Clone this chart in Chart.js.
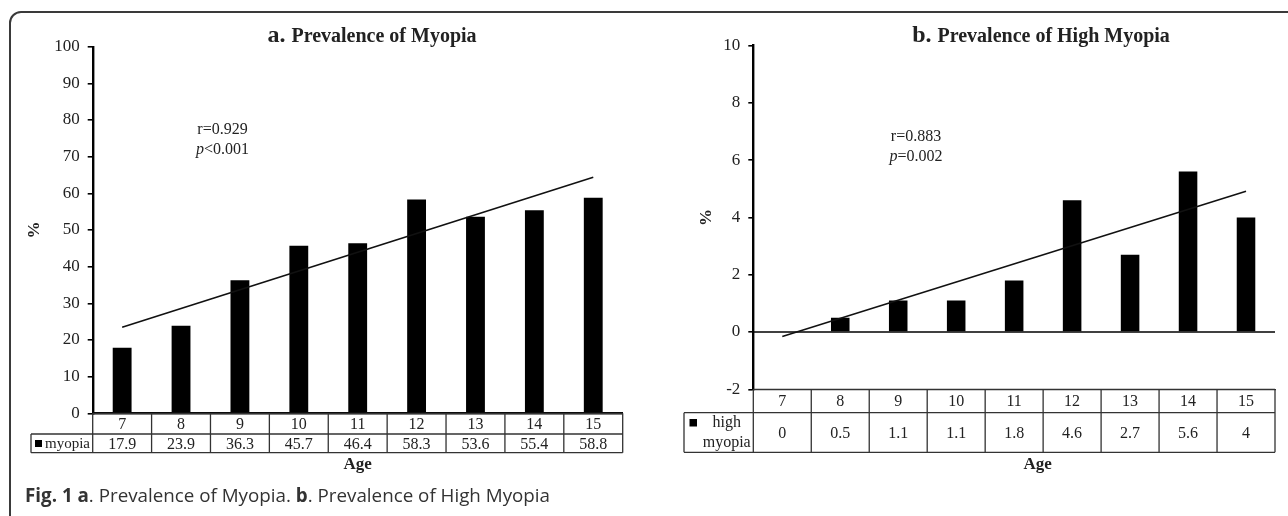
<!DOCTYPE html>
<html>
<head>
<meta charset="utf-8">
<script src="https://cdn.jsdelivr.net/npm/chart.js@4.4.1/dist/chart.umd.min.js"></script>
<style>
  body { margin: 0; background: #fff; width: 1288px; height: 516px; position: relative; overflow: hidden; }
  #frame { position: absolute; left: 9px; top: 11px; width: 1290px; height: 560px; border: 2px solid #3a3a3a; border-radius: 12px; box-sizing: border-box; }
  #chartA { position: absolute; left: 0; top: 0; }
  #chartB { position: absolute; left: 640px; top: 0; }
  #caption { position: absolute; left: 25px; top: 482px; font-family: 'Open Sans', sans-serif; font-size: 18.8px; color: #333; white-space: nowrap; }
</style>
</head>
<body>
<div id="frame"></div>
<canvas id="chartA" width="640" height="516"></canvas>
<canvas id="chartB" width="648" height="516"></canvas>
<div id="caption"><b>Fig. 1 a</b>. Prevalence of Myopia. <b>b</b>. Prevalence of High Myopia</div>

<script>
document.addEventListener("DOMContentLoaded", function(event) {

    var ages = ['7', '8', '9', '10', '11', '12', '13', '14', '15'];
    var myopia = [17.9, 23.9, 36.3, 45.7, 46.4, 58.3, 53.6, 55.4, 58.8];
    var highMyopia = [0, 0.5, 1.1, 1.1, 1.8, 4.6, 2.7, 5.6, 4];

    // fitted lines (value at age 7 and at age 15)
    var trendAges = ['7', '15'];
    var trendMyopia = [23.5, 64.4];
    var trendHigh = [-0.16, 4.91];

    var yTicksA = [0, 10, 20, 30, 40, 50, 60, 70, 80, 90, 100];
    var yTicksB = [-2, 0, 2, 4, 6, 8, 10];

    var serif = "'Liberation Serif', 'DejaVu Serif', serif";
    Chart.defaults.font.family = serif;
    Chart.defaults.color = '#222';

    // draws title, % label, r/p note, the data table under the axis and "Age"
    function extras(o) {
        return {
            id: 'extras',
            beforeDatasetsDraw: function(chart) {
                if (!o.zeroLine) return;
                var ctx = chart.ctx, ca = chart.chartArea;
                var y0 = chart.scales.y.getPixelForValue(0);
                ctx.save();
                ctx.strokeStyle = '#000';
                ctx.lineWidth = 1.6;
                ctx.beginPath();
                ctx.moveTo(ca.left, y0);
                ctx.lineTo(ca.right, y0);
                ctx.stroke();
                ctx.restore();
            },
            afterDraw: function(chart) {
                var ctx = chart.ctx, ca = chart.chartArea;
                var labels = chart.data.labels;
                var vals = chart.data.datasets[1].data;
                var n = labels.length, w = (ca.right - ca.left) / n;
                var top = ca.bottom, mid = top + o.headH, bot = mid + o.rowH;
                ctx.save();

                // table grid
                ctx.strokeStyle = '#333';
                ctx.lineWidth = 1.3;
                ctx.beginPath();
                ctx.moveTo(ca.left, top); ctx.lineTo(ca.right, top);
                ctx.moveTo(o.leadX, mid); ctx.lineTo(ca.right, mid);
                ctx.moveTo(o.leadX, bot); ctx.lineTo(ca.right, bot);
                ctx.moveTo(o.leadX, mid); ctx.lineTo(o.leadX, bot);
                for (var i = 0; i <= n; i++) {
                    var x = ca.left + i * w;
                    ctx.moveTo(x, top); ctx.lineTo(x, bot);
                }
                ctx.stroke();

                // table text
                ctx.fillStyle = '#222';
                ctx.font = '16px ' + serif;
                ctx.textAlign = 'center';
                ctx.textBaseline = 'middle';
                for (var j = 0; j < n; j++) {
                    var cx = chart.scales.x.getPixelForValue(j);
                    ctx.fillText(labels[j], cx, (top + mid) / 2 + 1);
                    ctx.fillText(String(vals[j]), cx, (mid + bot) / 2 + 1);
                }

                // legend key in the first cell
                ctx.fillStyle = '#000';
                ctx.fillRect(o.key[0], o.key[1], o.key[2], o.key[2]);
                ctx.fillStyle = '#222';
                ctx.font = o.keyFont + 'px ' + serif;
                o.keyText.forEach(function(t) {
                    ctx.textAlign = t[3];
                    ctx.fillText(t[0], t[1], t[2]);
                });

                // x title
                ctx.font = 'bold 17px ' + serif;
                ctx.textAlign = 'center';
                ctx.fillStyle = '#222';
                ctx.fillText('Age', o.ageX, o.ageY);

                // y title
                ctx.save();
                ctx.translate(o.pctX, (ca.top + ca.bottom) / 2);
                ctx.rotate(-Math.PI / 2);
                ctx.fillText('%', 0, 0);
                ctx.restore();

                // chart title, bigger letter first
                ctx.textBaseline = 'alphabetic';
                ctx.textAlign = 'left';
                ctx.font = 'bold 24px ' + serif;
                var w1 = ctx.measureText(o.titleLetter).width;
                ctx.font = 'bold 20px ' + serif;
                var w2 = ctx.measureText(o.titleText).width;
                var tx = o.titleX - (w1 + w2) / 2;
                ctx.font = 'bold 24px ' + serif;
                ctx.fillText(o.titleLetter, tx, o.titleY);
                ctx.font = 'bold 20px ' + serif;
                ctx.fillText(o.titleText, tx + w1, o.titleY);

                // r and p note
                ctx.textBaseline = 'middle';
                ctx.font = '16px ' + serif;
                ctx.textAlign = 'center';
                ctx.fillText(o.rText, o.noteX, o.noteY);
                ctx.font = 'italic 16px ' + serif;
                var wp = ctx.measureText('p').width;
                ctx.font = '16px ' + serif;
                var wr = ctx.measureText(o.pText).width;
                var px = o.noteX - (wp + wr) / 2;
                ctx.textAlign = 'left';
                ctx.font = 'italic 16px ' + serif;
                ctx.fillText('p', px, o.noteY + 20);
                ctx.font = '16px ' + serif;
                ctx.fillText(o.pText, px + wp, o.noteY + 20);

                ctx.restore();
            }
        };
    }

    function makeChart(el, values, trend, ticks, o) {
        return new Chart(document.getElementById(el), {
            type: 'bar',
            data: {
                labels: ages,
                datasets: [{
                    type: 'line',
                    data: trendAges.map(function(a, i) { return { x: a, y: trend[i] }; }),
                    borderColor: '#111',
                    borderWidth: 1.6,
                    pointRadius: 0,
                    order: 0
                }, {
                    label: o.series,
                    data: values,
                    backgroundColor: '#000',
                    categoryPercentage: 1,
                    barPercentage: 0.32,
                    order: 1
                }]
            },
            options: {
                responsive: false,
                animation: false,
                layout: { padding: { left: 0, top: o.top, right: o.right, bottom: 0 } },
                plugins: { legend: { display: false }, tooltip: { enabled: false } },
                scales: {
                    x: {
                        ticks: { display: false },
                        grid: { display: false },
                        border: { color: o.xBorderColor, width: o.xBorderWidth },
                        afterFit: function(s) { s.height = o.xHeight; }
                    },
                    y: {
                        min: ticks[0],
                        max: ticks[ticks.length - 1],
                        afterBuildTicks: function(s) { s.ticks = ticks.map(function(v) { return { value: v }; }); },
                        ticks: { color: '#222', font: { size: 17 }, padding: 8 },
                        grid: { drawOnChartArea: false, drawTicks: true, tickLength: 5, color: '#000', lineWidth: 1.6 },
                        border: { color: '#000', width: 2.4 },
                        afterFit: function(s) { s.width = o.yWidth; }
                    }
                }
            },
            plugins: [extras(o)]
        });
    }

    makeChart('chartA', myopia, trendMyopia, yTicksA, {
        series: 'myopia',
        top: 46.7, right: 17.3, xHeight: 102.7, yWidth: 92.7,
        xBorderColor: '#000', xBorderWidth: 2.4,
        headH: 20.7, rowH: 18.7, leadX: 31,
        key: [35, 440, 7], keyFont: 15,
        keyText: [['myopia', 45, 444, 'left']],
        ageX: 357.7, ageY: 465, pctX: 35,
        titleLetter: 'a. ', titleText: 'Prevalence of Myopia', titleX: 372, titleY: 42,
        rText: 'r=0.929', pText: '<0.001', noteX: 222.5, noteY: 130,
        zeroLine: false
    });

    makeChart('chartB', highMyopia, trendHigh, yTicksB, {
        series: 'high myopia',
        top: 45.5, right: 13, xHeight: 126.7, yWidth: 113.3,
        xBorderColor: '#333', xBorderWidth: 1.3,
        headH: 23.4, rowH: 39.6, leadX: 44,
        key: [49.5, 419, 7.5], keyFont: 16,
        keyText: [['high', 86.7, 423, 'center'], ['myopia', 86.7, 443, 'center']],
        ageX: 397.7, ageY: 465, pctX: 66.7,
        titleLetter: 'b. ', titleText: 'Prevalence of High Myopia', titleX: 401, titleY: 42,
        rText: 'r=0.883', pText: '=0.002', noteX: 276, noteY: 137,
        zeroLine: true
    });
});
</script>
</body>
</html>
